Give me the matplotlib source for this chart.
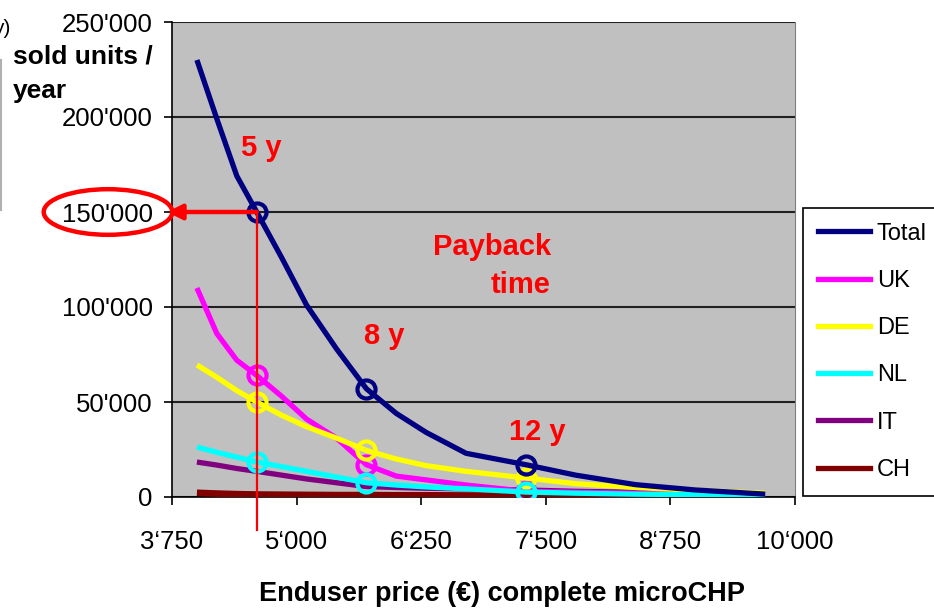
import matplotlib
matplotlib.use("Agg")
import matplotlib.pyplot as plt
from matplotlib.patches import Ellipse
from matplotlib.ticker import FixedLocator
from matplotlib.lines import Line2D

plt.rcParams['font.family'] = ['Liberation Sans', 'DejaVu Sans']

# ---------------- data ----------------
price = [4000, 4200, 4400, 4600, 4850, 5100, 5400, 5700, 6000, 6300, 6700, 7300, 7800, 8400, 9000, 9700]
total = [230000, 199000, 169000, 150000, 126000, 101000, 78000, 57000, 44000, 34000, 23000, 17000, 11500, 6500, 3700, 1500]
uk    = [110000, 86000, 72000, 64000, 53000, 41000, 31000, 17000, 11000, 9000, 6300, 3000, 2500, 2000, 1500, 1000]
de    = [69500, 63000, 56000, 50000, 43000, 37000, 31000, 24500, 20000, 16500, 13500, 10000, 7000, 5000, 3500, 2000]
nl    = [26300, 23500, 21000, 18400, 16000, 13500, 10500, 7500, 6300, 5300, 4300, 2600, 2000, 1500, 1200, 800]
it    = [18400, 16800, 15000, 13500, 11500, 9500, 7500, 5500, 5000, 4600, 4300, 3700, 3000, 2500, 2000, 1200]
ch    = [2200, 1800, 1500, 1300, 1200, 1100, 1000, 1000, 900, 900, 800, 800, 700, 700, 600, 500]

series_names = ['Total', 'UK', 'DE', 'NL', 'IT', 'CH']
series_colors = ['#000080', '#ff00ff', '#ffff00', '#00ffff', '#800080', '#800000']
payback_idx = [3, 7, 11]           # 5 y, 8 y, 12 y points
payback_labels = ['5 y', '8 y', '12 y']
payback_label_pos = [(4650, 183500), (5880, 84500), (7410, 34000)]

xticks = [3750, 5000, 6250, 7500, 8750, 10000]
xtick_labels = ["3\u2018750", "5\u2018000", "6\u2018250", "7\u2018500", "8\u2018750", "10\u2018000"]
yticks = [0, 50000, 100000, 150000, 200000, 250000]
ytick_labels = ["0", "50'000", "100'000", "150'000", "200'000", "250'000"]

# ---------------- figure ----------------
W, H = 934, 609
fig = plt.figure(figsize=(W / 100, H / 100), dpi=100)
ax = fig.add_axes([172 / W, 1 - 497 / H, (795 - 172) / W, (497 - 22) / H])
ax.set_facecolor('#c0c0c0')
ax.set_xlim(3750, 10000)
ax.set_ylim(0, 250000)

ax.yaxis.set_major_locator(FixedLocator(yticks))
ax.set_yticklabels(ytick_labels, fontsize=18.5)
ax.xaxis.set_major_locator(FixedLocator(xticks))
ax.set_xticklabels(xtick_labels, fontsize=18.5)
ax.tick_params(axis='y', direction='out', length=6, width=1.2, pad=8, colors='black')
ax.tick_params(axis='x', direction='out', length=6, width=1.2, pad=18, colors='black')

ax.grid(axis='y', color='#202020', linewidth=1.5)
ax.set_axisbelow(True)
ax.spines['top'].set_visible(False)
ax.spines['right'].set_color('#808080')
ax.spines['left'].set_linewidth(1.2)
ax.spines['bottom'].set_linewidth(1.2)

data = {'Total': total, 'UK': uk, 'DE': de, 'NL': nl, 'IT': it, 'CH': ch}
with_markers = {'Total', 'UK', 'DE', 'NL'}
zorders = {'CH': 3, 'IT': 4, 'UK': 5, 'DE': 6, 'NL': 7, 'Total': 8}
for name, color in zip(series_names, series_colors):
    kw = dict(color=color, linewidth=3.8 if name != 'CH' else 4.8,
              zorder=zorders[name], solid_capstyle='butt')
    if name in with_markers:
        kw.update(marker='o', markersize=13, markerfacecolor='none',
                  markeredgewidth=3, markeredgecolor=color, markevery=payback_idx)
    ax.plot(price, data[name], label=name, **kw)

# legend
proxies = [Line2D([], [], color=c, linewidth=3.8) for c in series_colors]
leg = fig.legend(proxies, series_names, loc='upper left',
                 bbox_to_anchor=(803 / W, 1 - 208 / H),
                 fontsize=17, frameon=True, fancybox=False,
                 edgecolor='black', framealpha=1, handlelength=2.2,
                 handletextpad=0.3, labelspacing=1.07, borderpad=0.62,
                 borderaxespad=0)
leg.get_frame().set_linewidth(1.2)

# payback annotations
for (lx, ly), lab in zip(payback_label_pos, payback_labels):
    ax.text(lx, ly, lab, color='#ff0000', fontsize=21, fontweight='bold',
            ha='center', va='center', zorder=10)

ax.text(7550, 121500, 'Payback\ntime', color='#ff0000', fontsize=21, fontweight='bold',
        ha='right', va='center', linespacing=1.45, zorder=10)

# red arrow and vertical line at 5 y
x5 = price[payback_idx[0]]
y5 = total[payback_idx[0]]
ax.annotate('', xy=(3700, y5), xytext=(x5, y5),
            arrowprops=dict(arrowstyle='-|>,head_length=0.9,head_width=0.45',
                            color='#ff0000', lw=3.2, shrinkA=0, shrinkB=0),
            annotation_clip=False, zorder=9)
ax.plot([x5, x5], [y5, -17500], color='#ff0000', lw=1.6, clip_on=False, zorder=9)

# red ellipse around the 150'000 label
ell = Ellipse((3108, y5), width=1290, height=24000, fill=False,
              edgecolor='#ff0000', lw=3.2, clip_on=False, zorder=9)
ax.add_patch(ell)

# axis titles
fig.text(13 / W, 1 - 57 / H, 'sold units /', fontsize=19, fontweight='bold',
         ha='left', va='center')
fig.text(13 / W, 1 - 91 / H, 'year', fontsize=19, fontweight='bold',
         ha='left', va='center')
fig.text(502 / W, 1 - 594 / H, 'Enduser price (\u20ac) complete microCHP',
         fontsize=19.5, fontweight='bold', ha='center', va='center')

# clipped fragment at top-left and faint frame edge
fig.text(10 / W, 1 - 28 / H, 'y)', fontsize=15, ha='right', va='center')
fig.add_artist(Line2D([1 / W, 1 / W], [1 - 60 / H, 1 - 210 / H], color='#b0b0b0', lw=1.5))

fig.savefig('out.png', dpi=100)
